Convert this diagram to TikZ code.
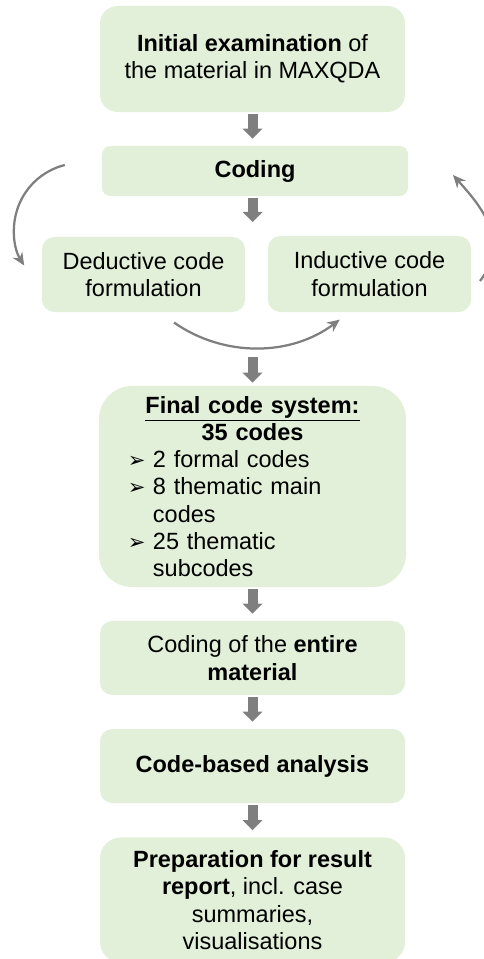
\documentclass[tikz,border=0pt]{standalone}
\usepackage{fontspec}
\setmainfont{Liberation Sans}
\newfontfamily\dejavu{DejaVu Sans}
\usetikzlibrary{arrows.meta}
\definecolor{boxgreen}{HTML}{E2F0D9}
\definecolor{arrgray}{HTML}{7F7F7F}
\newcommand\codeitem[1]{\par\noindent\makebox[0.625cm][l]{\dejavu\fontsize{15}{15}\selectfont ➢}#1}
\newcommand\codecont[1]{\par\noindent\hspace*{0.625cm}#1}

\begin{document}
\begin{tikzpicture}[x=0.025cm,y=-0.025cm,
        box/.style={fill=boxgreen,align=center,inner sep=0pt,font=\fontsize{16.7}{19.4}\selectfont},
        blockarrow/.style={draw=arrgray,line width=0.25cm,-{Triangle[width=0.5cm,length=0.25cm,line width=0pt]},shorten <=0.05cm,shorten >=0.175cm},
        cyclearrow/.style={draw=arrgray,line width=1.6pt,-{Stealth[length=9pt,width=8pt]}}]
        \useasboundingbox (0,0) rectangle (484,959);
        \node[box,rounded corners=0.44cm,minimum width=7.625cm,minimum height=2.65cm] (init) at (252.5,59)
           {\textbf{Initial examination} of\\the material in MAXQDA};
        \node[box,rounded corners=0.21cm,minimum width=7.65cm,minimum height=1.25cm] (coding) at (255,171)
           {\textbf{Coding}};
        \node[box,rounded corners=0.31cm,minimum width=5.075cm,minimum height=1.875cm] (deduct) at (143.5,274.5)
           {Deductive code\\formulation};
        \node[box,rounded corners=0.31cm,minimum width=5.075cm,minimum height=1.9cm] (induct) at (369.5,274)
           {Inductive code\\formulation};
        \node[box,rounded corners=0.83cm,minimum width=7.675cm,minimum height=5.025cm,text width=6.225cm,align=left] (final) at (252.5,486.5)
           {{\centering\underline{\textbf{Final code system:}}\\\textbf{35 codes}\par}
            \codeitem{2 formal codes}
            \codeitem{8 thematic main}
            \codecont{codes}
            \codeitem{25 thematic}
            \codecont{subcodes}};
        \node[box,rounded corners=0.31cm,minimum width=7.625cm,minimum height=1.85cm] (entire) at (252.5,658)
           {Coding of the \textbf{entire}\\\textbf{material}};
        \node[box,rounded corners=0.31cm,minimum width=7.625cm,minimum height=1.85cm] (analysis) at (252.5,766)
           {\textbf{Code-based analysis}};
        \node[box,rounded corners=0.52cm,minimum width=7.625cm,minimum height=3.125cm] (prep) at (252.5,900)
           {\textbf{Preparation for result}\\\textbf{report}, incl. case\\summaries,\\visualisations};
        \coordinate (split) at (252.5,222);
        \coordinate (merge) at (252.5,357);
        \draw[blockarrow] (init.south) -- (init.south |- coding.north);
        \draw[blockarrow,shorten >=0pt] (coding.south -| split) -- (split);
        \draw[blockarrow,shorten <=0pt,shorten >=0.075cm] (merge) -- (final.north);
        \draw[blockarrow] (final.south) -- (entire.north);
        \draw[blockarrow] (entire.south) -- (analysis.north);
        \draw[blockarrow] (analysis.south) -- (prep.north);
        \coordinate (leftstart) at (64.8,165);
        \coordinate (bottomstart) at (174,322.5);
        \coordinate (rightstart) at (480,281);
        \coordinate (rightend) at (453,175);
        \draw[cyclearrow] (leftstart) arc[start angle=104,end angle=212,radius=1.675cm];
        \draw[cyclearrow] (bottomstart) arc[start angle=235,end angle=307,radius=3.525cm];
        \draw[cyclearrow] (rightstart) .. controls (512,240) and (478,203) .. (rightend);
      \end{tikzpicture}
\end{document}
